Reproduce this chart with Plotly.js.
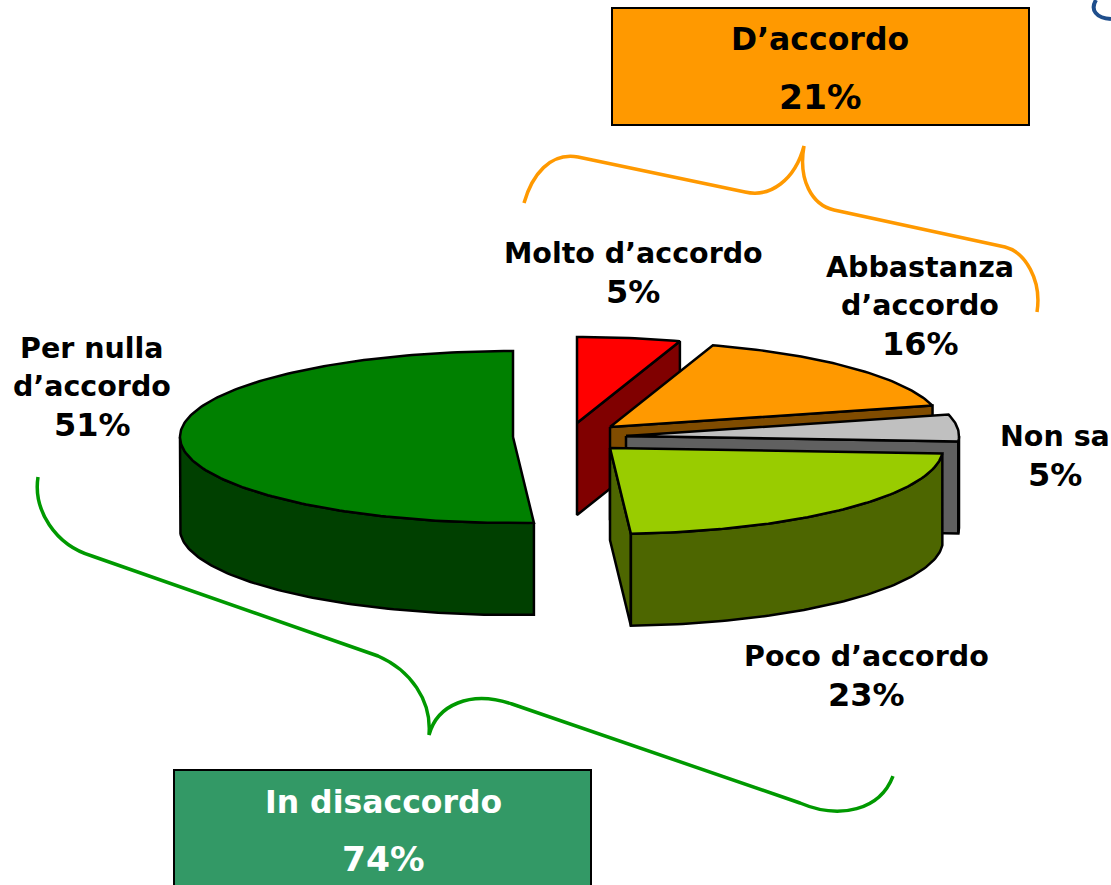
<!DOCTYPE html>
<html>
<head>
<meta charset="utf-8">
<script src="https://cdn.plot.ly/plotly-3.0.1.min.js"></script>
<style>html,body{margin:0;padding:0;background:#fff;overflow:hidden}</style>
</head>
<body>
<div id="chart" style="width:1111px;height:885px"></div>
<script>
// ---- data ----
const categories = ["Molto d’accordo", "Abbastanza d’accordo", "Non sa", "Poco d’accordo", "Per nulla d’accordo"];
const values = [5, 16, 5, 23, 51];
const groupNames = ["D’accordo", "In disaccordo"];
const groupValues = [21, 74];

// ---- styling / projection ----
const topColors = ["#FF0000", "#FF9900", "#C0C0C0", "#99CC00", "#008000"];
const wallColors = ["#800000", "#804C00", "#606060", "#4D6600", "#004000"];
const explodeX = [577, 610, 626, 610, 513];
const explodeY = [423, 427, 436, 448, 437];
const RX = 333, RY = 86, DEPTH = 92;

// wrapped label lines and positions
const labelLines = [["Molto d’accordo"], ["Abbastanza", "d’accordo"], ["Non sa"], ["Poco d’accordo"], ["Per nulla", "d’accordo"]];
const labelX = [633, 920, 1055, 866, 92];
const labelTopY = [253, 267, 436, 656, 348];
const LINE = 38.5, FONT = 28.5, PCT_FONT = 32, BOX_FONT = 31.5;
const FAMILY = "'DejaVu Sans', Verdana, sans-serif";

const traces = [];
function poly(xs, ys, fill, name) {
  traces.push({type: "scatter", mode: "lines", x: xs, y: ys, fill: "toself", fillcolor: fill,
    line: {color: "#000", width: 2.5, shape: "linear"}, hoverinfo: "skip", name: name, showlegend: false, cliponaxis: false});
}
const total = values.reduce((a, b) => a + b, 0);
const px = (cx, deg) => cx + RX * Math.sin(deg * Math.PI / 180);
const py = (cy, deg) => cy - RY * Math.cos(deg * Math.PI / 180);

let start = 0;
values.forEach((v, i) => {
  const end = start + v / total * 360;
  const cx = explodeX[i], cy = explodeY[i], name = categories[i];
  const wall = wallColors[i];
  // radial walls visible from the front
  const radial = deg => poly(
    [cx, px(cx, deg), px(cx, deg), cx, cx],
    [cy, py(cy, deg), py(cy, deg) + DEPTH, cy + DEPTH, cy], wall, name);
  if (Math.sin(end * Math.PI / 180) > 1e-6) radial(end);
  if (Math.sin(start * Math.PI / 180) < -1e-6) radial(start);
  // outer wall on the front half of the rim
  const a0 = Math.max(start, 90), a1 = Math.min(end, 270);
  if (a1 > a0) {
    const xs = [], ys = [];
    for (let a = a0; a < a1; a += 1) { xs.push(px(cx, a)); ys.push(py(cy, a)); }
    xs.push(px(cx, a1)); ys.push(py(cy, a1));
    for (let a = a1; a > a0; a -= 1) { xs.push(px(cx, a)); ys.push(py(cy, a) + DEPTH); }
    xs.push(px(cx, a0)); ys.push(py(cy, a0) + DEPTH);
    xs.push(xs[0]); ys.push(ys[0]);
    poly(xs, ys, wall, name);
  }
  // top face
  const tx = [cx], ty = [cy];
  for (let a = start; a < end; a += 1) { tx.push(px(cx, a)); ty.push(py(cy, a)); }
  tx.push(px(cx, end), cx); ty.push(py(cy, end), cy);
  poly(tx, ty, topColors[i], name);
  start = end;
});

// ---- text ----
const annotations = [];
function txt(text, x, y, color, size) {
  annotations.push({text: "<b>" + text + "</b>", x: x, y: y, xref: "x", yref: "y", showarrow: false,
    xanchor: "center", yanchor: "middle", font: {family: FAMILY, size: size, color: color}});
}
values.forEach((v, i) => {
  labelLines[i].forEach((l, k) => txt(l, labelX[i], labelTopY[i] + k * LINE, "#000", FONT));
  txt(v + "%", labelX[i], labelTopY[i] + labelLines[i].length * LINE, "#000", PCT_FONT);
});
txt(groupNames[0], 820, 39, "#000", BOX_FONT);
txt(groupValues[0] + "%", 820, 97, "#000", BOX_FONT + 3);
txt(groupNames[1], 383, 802, "#fff", BOX_FONT);
txt(groupValues[1] + "%", 383, 859, "#fff", BOX_FONT + 3);

// ---- boxes and braces ----
const shapes = [
  {type: "rect", xref: "x", yref: "y", x0: 612, x1: 1029, y0: 8, y1: 125, fillcolor: "#FF9900", line: {color: "#000", width: 2}, layer: "below"},
  {type: "rect", xref: "x", yref: "y", x0: 174, x1: 591, y0: 770, y1: 900, fillcolor: "#339966", line: {color: "#000", width: 2}, layer: "below"},
  {type: "path", xref: "x", yref: "y", path: "M524,203 C532,175 550,152 578,157 L745,192 C770,198 795,180 804,146 C798,180 812,205 834,210 L1005,247 C1025,252 1042,280 1037,312", line: {color: "#FF9900", width: 3.5}, fillcolor: "rgba(0,0,0,0)"},
  {type: "path", xref: "x", yref: "y", path: "M38,477 C33,510 55,545 92,556 L378,656 C410,670 432,700 429,735 C437,705 470,690 512,704 L800,803 C840,820 880,810 893,776", line: {color: "#009900", width: 3.5}, fillcolor: "rgba(0,0,0,0)"},
  {type: "path", xref: "x", yref: "y", path: "M1096,0 C1090,10 1096,18 1111,19", line: {color: "#1F4E8C", width: 4}, fillcolor: "rgba(0,0,0,0)"}
];

Plotly.newPlot("chart", traces, {
  width: 1111, height: 885,
  margin: {l: 0, r: 0, t: 0, b: 0},
  paper_bgcolor: "#fff", plot_bgcolor: "#fff",
  showlegend: false,
  xaxis: {range: [0, 1111], visible: false, fixedrange: true},
  yaxis: {range: [885, 0], visible: false, fixedrange: true},
  annotations: annotations,
  shapes: shapes
}, {displayModeBar: false, staticPlot: true});
</script>
</body>
</html>
